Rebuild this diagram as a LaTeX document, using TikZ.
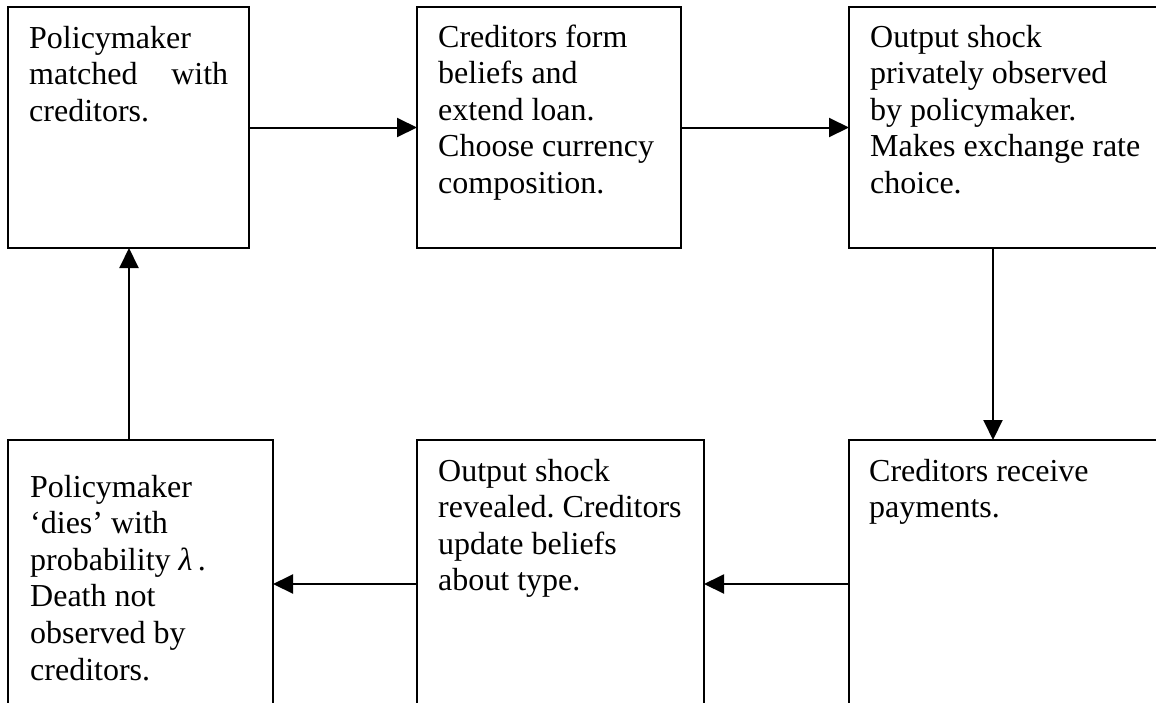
\documentclass[tikz,border=0pt]{standalone}
\usepackage{fontspec}
\setmainfont{Liberation Serif}
\usetikzlibrary{arrows.meta}
\newcommand{\stagetext}[1]{\parbox[t]{320pt}{\raggedright\frenchspacing #1}}
\begin{document}
\begin{tikzpicture}[x=1pt,y=-1pt,
  stage/.style={draw, line width=2pt, inner sep=0pt, outer sep=0pt, rectangle, anchor=north west},
  txt/.style={anchor=base west, inner sep=0pt, font=\fontsize{32}{36.6}\selectfont},
  flow/.style={line width=2pt, -{Triangle[length=20pt,width=19pt]}}]
\useasboundingbox (0,0) rectangle (1156,702);
\fill[white] (0,0) rectangle (1156,702);
\begin{scope}
\clip (0,0) rectangle (1156,702);
% top row
\node[stage, minimum width=241pt, minimum height=241pt] (t1) at (8,7) {};
\node[stage, minimum width=264pt, minimum height=241pt] (t2) at (417,7) {};
\node[stage, minimum width=351pt, minimum height=241pt] (t3) at (849,7) {};
% bottom row
\node[stage, minimum width=265pt, minimum height=288pt] (b1) at (8,440) {};
\node[stage, minimum width=287pt, minimum height=288pt] (b2) at (417,440) {};
\node[stage, minimum width=351pt, minimum height=288pt] (b3) at (849,440) {};
% texts
\node[txt] (t1txt) at (29,48) {\stagetext{Policymaker\\\makebox[199pt][s]{matched with}\\creditors.}};
\node[txt] (t2txt) at (438,47) {\stagetext{Creditors form\\beliefs and\\extend loan.\\Choose currency\\composition.}};
\node[txt] (t3txt) at (870,47) {\stagetext{Output shock\\privately observed\\by policymaker.\\Makes exchange rate\\choice.}};
\node[txt] (b1txt) at (30,497) {\stagetext{Policymaker\\‘dies’ with\\probability {\itshape λ}\,.\\Death not\\observed by\\creditors.}};
\node[txt] (b2txt) at (438,481) {\stagetext{Output shock\\revealed. Creditors\\update beliefs\\about type.}};
\node[txt] (b3txt) at (869,481) {\stagetext{Creditors receive\\payments.}};
% connectors
\coordinate (downx) at (993,0);
\coordinate (upx) at (129,0);
\draw[flow] (t1.east) -- (t2.west);
\draw[flow] (t2.east |- t1.east) -- (t3.west |- t1.east);
\draw[flow] (t3.south -| downx) -- (b3.north -| downx);
\draw[flow] (b3.west |- b2.east) -- (b2.east);
\draw[flow] (b2.west) -- (b1.east |- b2.west);
\draw[flow] (b1.north -| upx) -- (t1.south -| upx);
\end{scope}
\end{tikzpicture}
\end{document}
